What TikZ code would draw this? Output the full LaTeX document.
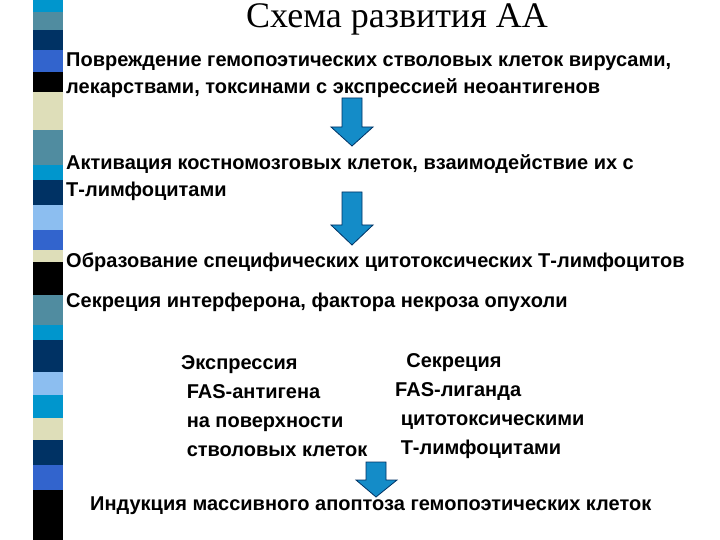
\documentclass[tikz,border=0pt]{standalone}
\usepackage{fontspec}
\setmainfont{Liberation Sans}
\newfontfamily\serifx{Liberation Serif}
\definecolor{cy}{RGB}{0,150,205}
\definecolor{st}{RGB}{80,140,160}
\definecolor{nv}{RGB}{0,50,100}
\definecolor{bl}{RGB}{50,100,205}
\definecolor{bk}{RGB}{0,0,0}
\definecolor{be}{RGB}{222,222,185}
\definecolor{lb}{RGB}{140,190,240}
\definecolor{arr}{RGB}{20,140,200}
\tikzset{txt/.style={anchor=west,font=\bfseries\fontsize{20}{27}\selectfont,inner sep=0pt,align=left},
mid/.style={anchor=west,font=\bfseries\fontsize{20}{29}\selectfont,inner sep=0pt,align=left},
blk/.style={fill=arr,draw=nv,line width=0.8pt}}
\begin{document}
\begin{tikzpicture}[x=1pt,y=-1pt]
\useasboundingbox[fill=white] (0,0) rectangle (720,540);
\foreach \a/\b/\c in {0/12/cy,12/30/st,30/50/nv,50/72/bl,72/92/bk,92/130/be,130/165/st,165/180/cy,180/205/nv,205/230/lb,230/250/bl,250/262/be,262/295/bk,295/325/st,325/340/cy,340/372/nv,372/395/lb,395/418/cy,418/440/be,440/465/nv,465/490/bl,490/540/bk}
  \fill[\c] (33,\a) rectangle (63,\b);
\node[font=\serifx\fontsize{36}{38}\selectfont] (title) at (397,19) {Схема развития АА};
\node[txt] (t1) at (66,75) {Повреждение гемопоэтических стволовых  клеток вирусами,\\ лекарствами, токсинами  с экспрессией неоантигенов};
\node[txt] (t2) at (66,178) {Активация костномозговых клеток, взаимодействие их с\\ Т-лимфоцитами};
\node[txt] (t3) at (66,262) {Образование специфических цитотоксических Т-лимфоцитов};
\node[txt] (t4) at (66,302) {Секреция интерферона, фактора некроза опухоли};
\node[mid] (t5) at (181,406) {Экспрессия\\ \ FAS-антигена\\ \ на поверхности\\ \ стволовых клеток};
\node[mid] (t6) at (395,406) {\ \ Секреция\\FAS-лиганда\\ \ цитотоксическими\\ \ Т-лимфоцитами};
\node[txt] (t7) at (90,506) {Индукция массивного апоптоза гемопоэтических клеток};
\draw[blk] (342,98)--(362,98)--(362,127)--(373,127)--(352,146)--(331,127)--(342,127)--cycle;
\draw[blk] (342,192)--(362,192)--(362,225)--(373,225)--(352,245)--(331,225)--(342,225)--cycle;
\draw[blk] (366,462)--(386,462)--(386,480)--(397,480)--(376,497)--(356,480)--(366,480)--cycle;
\end{tikzpicture}
\end{document}
